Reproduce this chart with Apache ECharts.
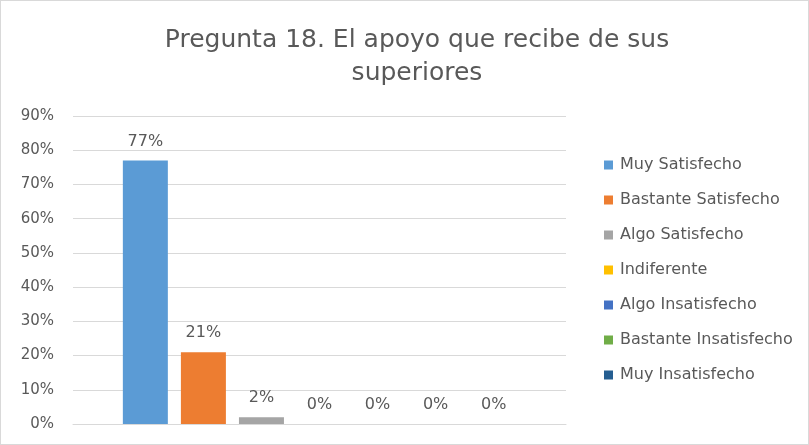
<!DOCTYPE html>
<html>
<head>
<meta charset="utf-8">
<script src="https://cdn.jsdelivr.net/npm/echarts@6/dist/echarts.min.js"></script>
<style>
  html, body { margin: 0; padding: 0; background: #fff; }
  #chart { width: 809px; height: 445px; box-sizing: border-box; border: 1px solid #d9d9d9; }
</style>
</head>
<body>
<div id="chart"></div>
<script>
// categorias (una serie por respuesta) y valores en %
const categories = ['Muy Satisfecho', 'Bastante Satisfecho', 'Algo Satisfecho', 'Indiferente',
  'Algo Insatisfecho', 'Bastante Insatisfecho', 'Muy Insatisfecho']
const values = [77, 21, 2, 0, 0, 0, 0]
const colors = ['#5B9BD5', '#ED7D31', '#A5A5A5', '#FFC000', '#4472C4', '#70AD47', '#255E91']
const yTicks = [0, 10, 20, 30, 40, 50, 60, 70, 80, 90]

const font = "'DejaVu Sans', sans-serif"
const myChart = echarts.init(document.getElementById('chart'))

const series = categories.map((name, i) => ({
  name: name,
  type: 'bar',
  data: [values[i]],
  barWidth: 45,
  barGap: '29%',
  itemStyle: { color: colors[i] },
  label: {
    show: true,
    position: 'top',
    distance: 11,
    formatter: '{c}%',
    color: '#595959',
    fontSize: 16,
    fontFamily: font
  }
}))

myChart.setOption({
  animation: false,
  color: colors,
  title: {
    text: 'Pregunta 18. El apoyo que recibe de sus\nsuperiores',
    left: 411,
    textAlign: 'center',
    top: 18,
    textStyle: {
      color: '#595959',
      fontSize: 25,
      fontWeight: 'normal',
      fontFamily: font,
      lineHeight: 33
    }
  },
  legend: {
    orient: 'vertical',
    left: 598,
    top: 151,
    itemWidth: 9,
    itemHeight: 9,
    itemGap: 19,
    icon: 'rect',
    textStyle: { color: '#595959', fontSize: 16, fontFamily: font, padding: [0, 0, 0, 2] },
    data: categories
  },
  grid: { left: 72, right: 242, top: 115, bottom: 20 },
  xAxis: {
    type: 'category',
    data: [''],
    axisTick: { show: false },
    axisLabel: { show: false },
    axisLine: { lineStyle: { color: '#d9d9d9', width: 1 } }
  },
  yAxis: {
    type: 'value',
    min: yTicks[0],
    max: yTicks[yTicks.length - 1],
    interval: 10,
    axisLine: { show: false },
    axisTick: { show: false },
    axisLabel: {
      formatter: '{value}%',
      color: '#595959',
      fontSize: 15,
      fontFamily: font,
      margin: 19
    },
    splitLine: { lineStyle: { color: '#d9d9d9', width: 1 } }
  },
  series: series
})

window.addEventListener('resize', () => {
  myChart.resize()
})
</script>
</body>
</html>
